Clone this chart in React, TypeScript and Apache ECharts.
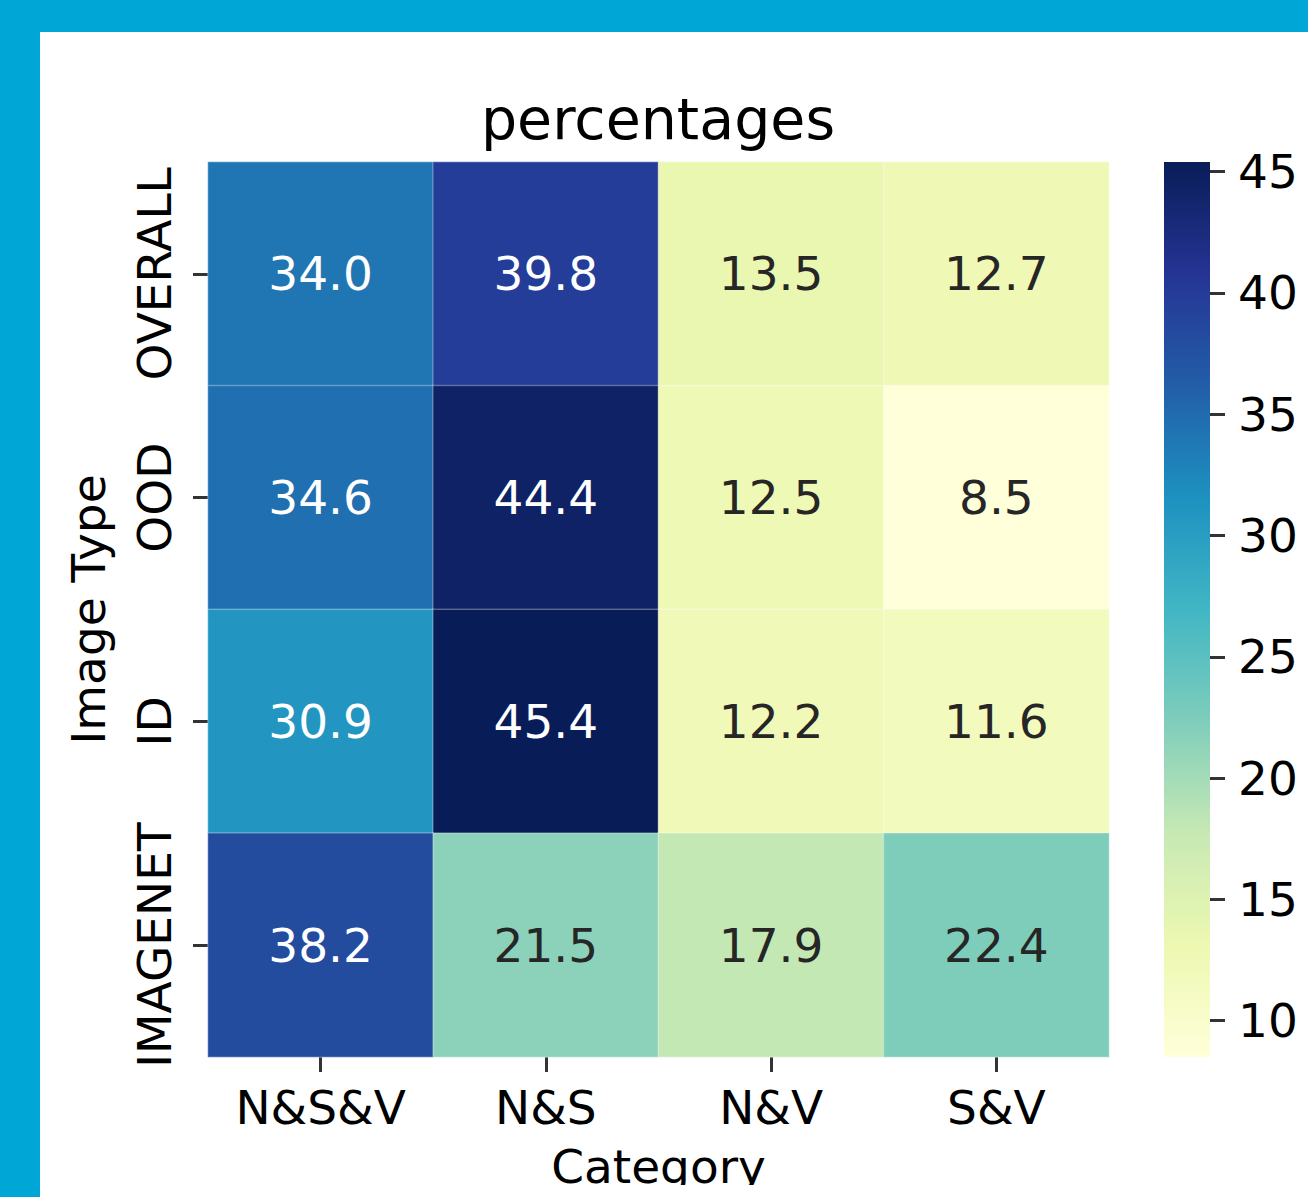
import React, { useEffect, useRef } from "react";
import * as echarts from "echarts";

const categories = ["N&S&V", "N&S", "N&V", "S&V"];
const imageTypes = ["OVERALL", "OOD", "ID", "IMAGENET"];
const overallValues = [34.0, 39.8, 13.5, 12.7];
const oodValues = [34.6, 44.4, 12.5, 8.5];
const idValues = [30.9, 45.4, 12.2, 11.6];
const imagenetValues = [38.2, 21.5, 17.9, 22.4];
const rowValues = [overallValues, oodValues, idValues, imagenetValues];
const colorbarTicks = [10, 15, 20, 25, 30, 35, 40, 45];
const vMin = 8.5;
const vMax = 45.4;

const YLGNBU = ["#ffffd9", "#edf8b1", "#c7e9b4", "#7fcdbb", "#41b6c4", "#1d91c0", "#225ea8", "#253494", "#081d58"];
const FONT = "DejaVu Sans";

function hexToRgb(h: string) {
  const n = parseInt(h.slice(1), 16);
  return [(n >> 16) & 255, (n >> 8) & 255, n & 255];
}
function cmap(v: number) {
  const t = Math.min(1, Math.max(0, (v - vMin) / (vMax - vMin))) * (YLGNBU.length - 1);
  const i = Math.min(YLGNBU.length - 2, Math.floor(t));
  const f = t - i;
  const a = hexToRgb(YLGNBU[i]);
  const b = hexToRgb(YLGNBU[i + 1]);
  return a.map((c, k) => c + (b[k] - c) * f);
}
function textColorFor(v: number) {
  const rgb = cmap(v).map((c) => {
    const s = c / 255;
    return s <= 0.03928 ? s / 12.92 : Math.pow((s + 0.055) / 1.055, 2.4);
  });
  const lum = 0.2126 * rgb[0] + 0.7152 * rgb[1] + 0.0722 * rgb[2];
  return lum > 0.408 ? "#262626" : "#ffffff";
}

export default function App() {
  const ref = useRef<HTMLDivElement>(null);
  useEffect(() => {
    document.body.style.margin = "0";
    const chart = echarts.init(ref.current!, null, { renderer: "svg" });
    const data: any[] = [];
    rowValues.forEach((row, r) => {
      row.forEach((v, c) => {
        data.push({ value: [c, r, v], label: { color: textColorFor(v) } });
      });
    });
    const gx = 1164, gy = 162, gw = 46, gh = 895;
    chart.setOption({
      animation: false,
      backgroundColor: "#ffffff",
      title: {
        text: "percentages",
        left: 658,
        top: 90,
        padding: 0,
        textAlign: "center",
        textStyle: { fontFamily: FONT, fontSize: 57, fontWeight: "normal", color: "#000" },
      },
      grid: [
        { left: 208, right: 199, top: 162, bottom: 140 },
        { left: gx, top: gy, width: gw, height: gh },
      ],
      xAxis: [
        {
          type: "category",
          data: categories,
          gridIndex: 0,
          position: "bottom",
          axisLine: { show: false },
          axisTick: { show: true, alignWithLabel: true, interval: 0, length: 15, lineStyle: { color: "#333", width: 3 } },
          axisLabel: { interval: 0, margin: 27, fontFamily: FONT, fontSize: 47, color: "#000" },
          name: "Category",
          nameLocation: "middle",
          nameGap: 86,
          nameTextStyle: { fontFamily: FONT, fontSize: 47, color: "#000" },
          splitLine: { show: false },
        },
        { type: "category", data: ["cb"], gridIndex: 1, show: false },
      ],
      yAxis: [
        {
          type: "category",
          data: imageTypes,
          inverse: true,
          gridIndex: 0,
          axisLine: { show: false },
          axisTick: { show: true, alignWithLabel: true, interval: 0, length: 15, lineStyle: { color: "#333", width: 3 } },
          axisLabel: { interval: 0, margin: 30, rotate: 90, fontFamily: FONT, fontSize: 47, color: "#000" },
          name: "Image Type",
          nameLocation: "middle",
          nameRotate: 90,
          nameGap: 96,
          nameTextStyle: { fontFamily: FONT, fontSize: 47, color: "#000" },
          splitLine: { show: false },
        },
        {
          type: "value",
          gridIndex: 1,
          position: "right",
          min: vMin,
          max: vMax,
          axisLine: { show: false, onZero: false },
          splitLine: { show: false },
          axisTick: { show: true, inside: false, length: 15, customValues: colorbarTicks, lineStyle: { color: "#333", width: 3 } },
          axisLabel: { margin: 28, customValues: colorbarTicks, fontFamily: FONT, fontSize: 47, color: "#000" },
        },
      ],
      visualMap: {
        show: false,
        type: "continuous",
        min: vMin,
        max: vMax,
        dimension: 2,
        seriesIndex: 0,
        inRange: { color: YLGNBU },
      },
      graphic: [
        { type: "rect", z: 100, shape: { x: 40, y: 1185, width: 1268, height: 12 }, style: { fill: "#ffffff" } },
        { type: "rect", z: 101, shape: { x: 0, y: 0, width: 1308, height: 32 }, style: { fill: "#00a6d6" } },
        { type: "rect", z: 101, shape: { x: 0, y: 0, width: 40, height: 1197 }, style: { fill: "#00a6d6" } },
        {
          type: "rect",
          z: -1,
          shape: { x: gx, y: gy, width: gw, height: gh },
          style: {
            fill: new echarts.graphic.LinearGradient(
              0, 0, 0, 1,
              YLGNBU.slice().reverse().map((c, i) => ({ offset: i / (YLGNBU.length - 1), color: c }))
            ),
          },
        },
      ],
      series: [
        {
          type: "heatmap",
          xAxisIndex: 0,
          yAxisIndex: 0,
          data,
          itemStyle: { borderColor: "rgba(255,255,255,0.25)", borderWidth: 1.5 },
          label: {
            show: true,
            fontFamily: FONT,
            fontSize: 47,
            formatter: (p: any) => p.value[2].toFixed(1),
          },
          emphasis: { disabled: true },
        },
      ],
    });
    return () => chart.dispose();
  }, []);
  return <div ref={ref} style={{ width: 1308, height: 1197 }} />;
}
